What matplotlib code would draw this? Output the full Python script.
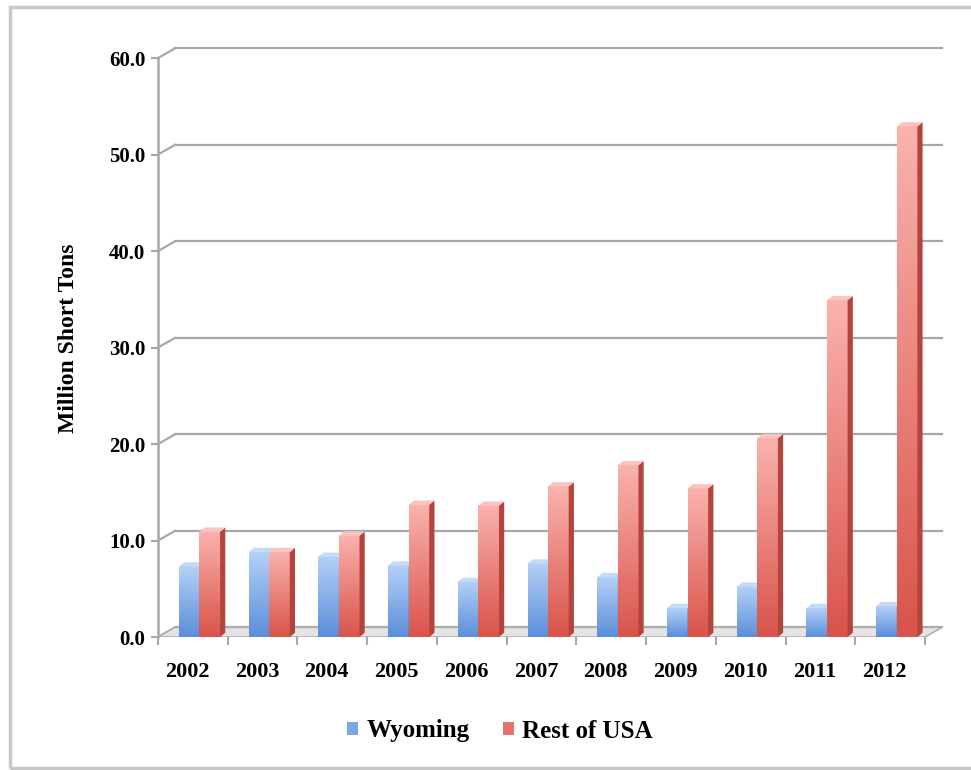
import matplotlib.pyplot as plt
import numpy as np
from matplotlib.patches import Polygon, Rectangle
from matplotlib.colors import LinearSegmentedColormap

years = ['2002', '2003', '2004', '2005', '2006', '2007', '2008', '2009', '2010', '2011', '2012']
wyoming = [7.3, 8.8, 8.3, 7.4, 5.7, 7.6, 6.2, 3.0, 5.2, 3.0, 3.2]
rest_usa = [10.9, 8.8, 10.5, 13.7, 13.6, 15.6, 17.8, 15.4, 20.6, 34.9, 52.9]
yticks = [0, 10, 20, 30, 40, 50, 60]

plt.rcParams['font.family'] = ['Liberation Serif', 'DejaVu Serif']
plt.rcParams['font.weight'] = 'bold'

fig = plt.figure(figsize=(9.71, 7.70), dpi=100)
ax = fig.add_axes([0.1627, 0.1727, 0.8115, 0.777])

# depth of the fake 3d (data units)
ddx, ddy = 0.244, 1.0
bdx, bdy = 0.075, 0.45
w = 0.295

# outer frame
fig.patches.append(Rectangle((10/971, 2/770), 1.0, 1 - 9/770, transform=fig.transFigure,
                             fill=False, edgecolor='#c8c8c8', lw=2.5))

# back wall gridlines + connectors
for v in yticks:
    ax.plot([-0.5 + ddx, 10.5 + ddx], [v + ddy, v + ddy], color='#a8a8a8', lw=1.6, zorder=1)
    ax.plot([-0.5, -0.5 + ddx], [v, v + ddy], color='#a8a8a8', lw=1.6, zorder=1)

# floor
ax.add_patch(Polygon([(-0.5, 0), (10.5, 0), (10.5 + ddx, ddy), (-0.5 + ddx, ddy)],
                     facecolor='#e4e4e4', edgecolor='#b0b0b0', lw=1.2, zorder=2))

blue_cm = LinearSegmentedColormap.from_list('b', ['#b4d0f6', '#5b8fdb'])
red_cm = LinearSegmentedColormap.from_list('r', ['#fab2ad', '#d9544b'])
grad = np.linspace(0, 1, 100).reshape(-1, 1)


def bar3d(x0, v, cmap, side, top):
    x1 = x0 + w
    ax.imshow(grad, cmap=cmap, extent=(x0, x1, 0, v), aspect='auto', zorder=3)
    ax.add_patch(Polygon([(x1, 0), (x1 + bdx, bdy), (x1 + bdx, v + bdy), (x1, v)],
                         facecolor=side, edgecolor='none', zorder=3))
    ax.add_patch(Polygon([(x0, v), (x0 + bdx, v + bdy), (x1 + bdx, v + bdy), (x1, v)],
                         facecolor=top, edgecolor='none', zorder=3))


for i in range(len(years)):
    bar3d(i - 0.2, wyoming[i], blue_cm, '#4a79c4', '#c4dbf8')
    bar3d(i - 0.2 + w, rest_usa[i], red_cm, '#b4443c', '#fcc4c0')

ax.set_xlim(-0.5, 10.8)
ax.set_ylim(0, 62)

for s in ['top', 'right', 'bottom']:
    ax.spines[s].set_visible(False)
ax.spines['left'].set_bounds(0, 60)
ax.spines['left'].set_color('#a8a8a8')
ax.spines['left'].set_linewidth(1.8)

ax.set_yticks(yticks)
ax.set_yticklabels(['%.1f' % v for v in yticks], fontsize=15, fontweight='bold')
ax.tick_params(axis='y', length=5, width=1.5, color='#a8a8a8', pad=4)

ax.set_xticks(np.arange(len(years)) - 0.08)
ax.set_xticklabels(years, fontsize=16, fontweight='bold')
ax.set_xticks(np.arange(len(years) + 1) - 0.5, minor=True)
ax.tick_params(axis='x', which='major', length=0, pad=18)
ax.tick_params(axis='x', which='minor', length=6, width=1.5, color='#a8a8a8', direction='out')

ax.set_ylabel('Million Short Tons', fontsize=17, fontweight='bold', labelpad=22)

ax.bar([0], [0], color='#7aa6e6', label='Wyoming')
ax.bar([0], [0], color='#e8726a', label='Rest of USA')
fig.legend(loc='center', bbox_to_anchor=(500/971, 1 - 731/770), ncol=2, frameon=False,
           prop={'size': 18, 'weight': 'bold'}, handlelength=0.45, handleheight=0.45,
           handletextpad=0.35, columnspacing=1.3)

fig.savefig('out.png', dpi=100)
